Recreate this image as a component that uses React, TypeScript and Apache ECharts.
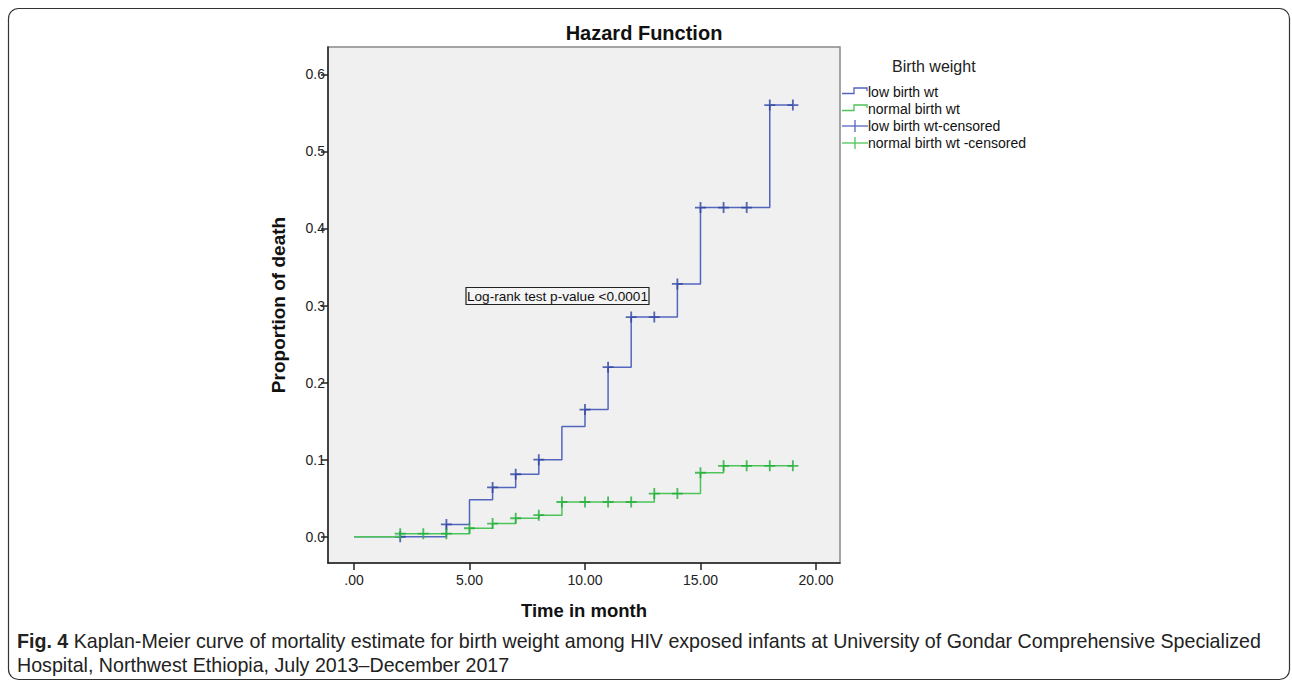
import React, { useEffect, useRef } from 'react';
import * as echarts from 'echarts';

const chartTitle = 'Hazard Function';
const xAxisTitle = 'Time in month';
const yAxisTitle = 'Proportion of death';
const legendTitle = 'Birth weight';
const seriesNames = ['low birth wt', 'normal birth wt', 'low birth wt-censored', 'normal birth wt -censored'];
const xTicks = [0, 5, 10, 15, 20];
const yTicks = [0, 0.1, 0.2, 0.3, 0.4, 0.5, 0.6];

// Step curve (value after each event time)
const lowTimes = [0, 4, 5, 6, 7, 8, 9, 10, 11, 12, 14, 15, 18, 19];
const lowValues = [0, 0.016, 0.048, 0.064, 0.081, 0.1, 0.143, 0.165, 0.22, 0.285, 0.328, 0.427, 0.56, 0.56];
const lowCensorTimes = [2, 4, 6, 7, 8, 10, 11, 12, 13, 14, 15, 16, 17, 18, 19];

const normalTimes = [0, 2, 5, 6, 7, 8, 9, 13, 15, 16, 19];
const normalValues = [0, 0.004, 0.011, 0.017, 0.024, 0.028, 0.045, 0.056, 0.083, 0.092, 0.092];
const normalCensorTimes = [2, 3, 4, 5, 6, 7, 8, 9, 10, 11, 12, 13, 14, 15, 16, 17, 18, 19];

const annotationText = 'Log-rank test p-value <0.0001';
const captionBold = 'Fig. 4';
const captionLine1 = ' Kaplan-Meier curve of mortality estimate for birth weight among HIV exposed infants at University of Gondar Comprehensive Specialized';
const captionLine2 = 'Hospital, Northwest Ethiopia, July 2013–December 2017';

const BLUE = '#5366be';
const BLUE_MARK = '#2f45a2';
const GREEN = '#4cc45a';
const GREEN_MARK = '#22ae38';
const FONT = '"Liberation Sans", Arial, sans-serif';
const CAP_SIZE = 20;

const PLUS = 'path://M5,0 L7,0 L7,5 L12,5 L12,7 L7,7 L7,12 L5,12 L5,7 L0,7 L0,5 L5,5 Z';

function stepValueAt(times: number[], values: number[], t: number) {
  let v = values[0];
  for (let i = 0; i < times.length; i++) if (times[i] <= t) v = values[i];
  return v;
}

const lowData = lowTimes.map((t, i) => [t, lowValues[i]]);
const normalData = normalTimes.map((t, i) => [t, normalValues[i]]);
const lowCensor = lowCensorTimes.map((t) => [t, stepValueAt(lowTimes, lowValues, t)]);
const normalCensor = normalCensorTimes.map((t) => [t, stepValueAt(normalTimes, normalValues, t)]);

function captionScale() {
  try {
    const ctx = document.createElement('canvas').getContext('2d')!;
    ctx.font = `bold ${CAP_SIZE}px ${FONT}`;
    const wb = ctx.measureText(captionBold).width;
    ctx.font = `${CAP_SIZE}px ${FONT}`;
    const wn = ctx.measureText(captionLine1).width;
    return 1245 / (wb + wn);
  } catch (e) {
    return 0.85;
  }
}

function legendGraphics() {
  const x0 = 842;
  const rows = [92, 109, 126, 143];
  const els: any[] = [];
  els.push({ type: 'text', left: 892, top: 58, style: { text: legendTitle, font: `16px ${FONT}`, fill: '#222' } });
  const colors = [BLUE, GREEN, BLUE, GREEN];
  rows.forEach((y, i) => {
    if (i < 2) {
      els.push({
        type: 'polyline',
        shape: { points: [[x0, y + 1.5], [x0 + 12, y + 1.5], [x0 + 12, y - 4], [x0 + 25, y - 4], [x0 + 25, y - 1]] },
        style: { stroke: colors[i], lineWidth: 1.3, fill: null },
      });
    } else {
      els.push({ type: 'line', shape: { x1: x0, y1: y, x2: x0 + 26, y2: y }, style: { stroke: colors[i], lineWidth: 1.3 } });
      els.push({ type: 'line', shape: { x1: x0 + 13, y1: y - 6, x2: x0 + 13, y2: y + 6 }, style: { stroke: colors[i], lineWidth: 1.3 } });
    }
    els.push({
      type: 'text', x: x0 + 26, y, style: { text: seriesNames[i], font: `14px ${FONT}`, fill: '#111', verticalAlign: 'middle' },
    });
  });
  return els;
}

function buildOption() {
  const s = captionScale();
  return {
    animation: false,
    backgroundColor: '#ffffff',
    graphic: [
      {
        type: 'rect', shape: { x: 8.5, y: 8.5, width: 1281, height: 671, r: 10 },
        style: { fill: null, stroke: '#333', lineWidth: 1.2 }, z: -10, silent: true,
      },
      {
        type: 'text', x: 644, y: 33, z: 11,
        style: { text: chartTitle, font: `bold 20px ${FONT}`, fill: '#111', align: 'center', verticalAlign: 'middle' },
      },
      {
        type: 'rect', shape: { x: 466, y: 287.5, width: 183, height: 17 },
        style: { fill: '#f4f4f4', stroke: '#222', lineWidth: 1.2 }, z: 10,
      },
      {
        type: 'text', x: 467, y: 296, z: 11,
        style: { text: annotationText, font: `13.6px ${FONT}`, fill: '#111', verticalAlign: 'middle' },
      },
      ...legendGraphics(),
      {
        type: 'text', x: 17, y: 641, scaleX: s, z: 11,
        style: {
          text: `{b|${captionBold}}{n|${captionLine1}}`, fill: '#222', verticalAlign: 'middle',
          rich: {
            b: { fontWeight: 'bold', fontFamily: FONT, fontSize: CAP_SIZE, fill: '#222' },
            n: { fontFamily: FONT, fontSize: CAP_SIZE, fill: '#222' },
          },
        },
      },
      {
        type: 'text', x: 17, y: 665, scaleX: s, z: 11,
        style: { text: captionLine2, font: `${CAP_SIZE}px ${FONT}`, fill: '#222', verticalAlign: 'middle' },
      },
    ],
    grid: {
      left: 328, top: 47, right: 452, bottom: 124,
      show: true, backgroundColor: '#f0f0f0', borderColor: '#888', borderWidth: 1.5,
    },
    xAxis: {
      type: 'value',
      min: -1.126, max: 21.04,
      name: xAxisTitle, nameLocation: 'middle', nameGap: 38,
      nameTextStyle: { fontFamily: FONT, fontWeight: 'bold', fontSize: 18.5, color: '#111' },
      axisLine: { show: true, onZero: false, lineStyle: { color: '#222', width: 1.5 } },
      axisTick: { show: true, length: 7, customValues: xTicks, lineStyle: { color: '#222', width: 1.5 } },
      axisLabel: {
        customValues: xTicks, margin: 10, fontFamily: FONT, fontSize: 14, color: '#222',
        formatter: (v: number) => (v === 0 ? '.00' : v.toFixed(2)),
      },
      splitLine: { show: false },
    },
    yAxis: {
      type: 'value',
      min: -0.0341, max: 0.6354,
      name: yAxisTitle, nameLocation: 'middle', nameGap: 40,
      nameTextStyle: { fontFamily: FONT, fontWeight: 'bold', fontSize: 19, color: '#111' },
      axisLine: { show: true, onZero: false, lineStyle: { color: '#222', width: 1.5 } },
      axisTick: { show: true, length: 7, customValues: yTicks, lineStyle: { color: '#222', width: 1.5 } },
      axisLabel: {
        customValues: yTicks, margin: 3, fontFamily: FONT, fontSize: 14, color: '#222',
        formatter: (v: number) => v.toFixed(1),
      },
      splitLine: { show: false },
    },
    series: [
      {
        name: seriesNames[0], type: 'line', step: 'end', data: lowData, showSymbol: false,
        lineStyle: { color: BLUE, width: 1.5 }, itemStyle: { color: BLUE }, z: 2,
      },
      {
        name: seriesNames[2], type: 'scatter', data: lowCensor, symbol: PLUS, symbolSize: 11,
        itemStyle: { color: BLUE_MARK }, z: 3,
      },
      {
        name: seriesNames[1], type: 'line', step: 'end', data: normalData, showSymbol: false,
        lineStyle: { color: GREEN, width: 1.5 }, itemStyle: { color: GREEN }, z: 4,
      },
      {
        name: seriesNames[3], type: 'scatter', data: normalCensor, symbol: PLUS, symbolSize: 11,
        itemStyle: { color: GREEN_MARK }, z: 5,
      },
    ],
  };
}

export default function App() {
  const ref = useRef<HTMLDivElement>(null);
  useEffect(() => {
    const chart = echarts.init(ref.current!, null, { renderer: 'svg' });
    chart.setOption(buildOption() as any);
    return () => chart.dispose();
  }, []);
  return (
    <div
      ref={ref}
      style={{ position: 'absolute', left: 0, top: 0, width: 1292, height: 687, background: '#fff' }}
    />
  );
}
